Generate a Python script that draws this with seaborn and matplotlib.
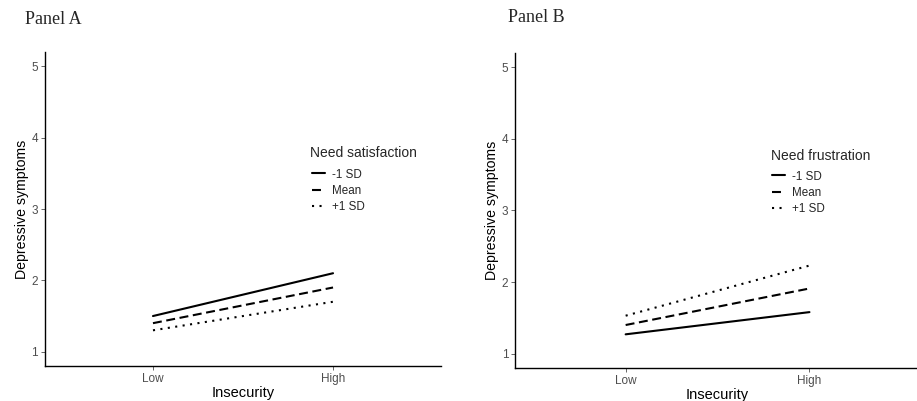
import pandas as pd
import matplotlib
matplotlib.use("Agg")
import matplotlib.pyplot as plt
import seaborn as sns

sns.set_theme(style="white")
plt.rcParams["font.family"] = ["Liberation Sans", "DejaVu Sans"]

insecurity = ["Low", "High"]
levels = ["-1 SD", "Mean", "+1 SD"]

# Panel A: need satisfaction moderates
sat_minus = [1.50, 2.10]
sat_mean = [1.40, 1.90]
sat_plus = [1.30, 1.70]

# Panel B: need frustration moderates
fru_minus = [1.27, 1.58]
fru_mean = [1.40, 1.91]
fru_plus = [1.53, 2.23]

dashes = {"-1 SD": "", "Mean": (4.3, 2.2), "+1 SD": (1, 2.6)}

W, H = 917, 401


def long_df(minus, mean, plus):
    rows = []
    for lvl, vals in zip(levels, [minus, mean, plus]):
        for x, y in zip(insecurity, vals):
            rows.append({"Insecurity": x, "y": y, "level": lvl})
    return pd.DataFrame(rows)


def draw(ax, df, legend_title, leg_px, title_px, panel, panel_px):
    fig = ax.figure
    sns.lineplot(data=df, x="Insecurity", y="y", style="level",
                 style_order=levels, dashes=dashes, color="black",
                 linewidth=1.5, ax=ax, legend=True)
    ax.set_xlim(-0.6, 1.6)
    ax.set_ylim(0.8, 5.2)
    ax.set_yticks([1, 2, 3, 4, 5])
    ax.set_xticks([0, 1])
    ax.set_xticklabels(insecurity)
    ax.tick_params(axis="both", which="both", length=3, width=0.6,
                   colors="#4d4d4d", labelsize=8.5, pad=2,
                   left=True, bottom=True)
    ax.set_xlabel("Insecurity", fontsize=10.5, color="black", labelpad=1)
    ax.set_ylabel("Depressive symptoms", fontsize=10.2, color="black", labelpad=2)
    for s in ["top", "right"]:
        ax.spines[s].set_visible(False)
    for s in ["left", "bottom"]:
        ax.spines[s].set_color("black")
        ax.spines[s].set_linewidth(1.0)

    # legend: entries only, title drawn separately for ggplot-like spacing
    handles, labels = ax.get_legend_handles_labels()
    ax.legend(handles, labels, frameon=False, loc="center left",
              bbox_to_anchor=(leg_px[0] / W, 1 - leg_px[1] / H),
              bbox_transform=fig.transFigure,
              fontsize=8.4, handlelength=1.1, handletextpad=0.65,
              labelspacing=0.38, borderpad=0, borderaxespad=0)
    fig.text(title_px[0] / W, 1 - title_px[1] / H, legend_title,
             fontsize=10, va="center", ha="left")
    fig.text(panel_px[0] / W, 1 - panel_px[1] / H, panel, fontsize=13,
             family="Liberation Serif", va="center", ha="left")


fig = plt.figure(figsize=(W / 100, H / 100), dpi=100)
ax_a = fig.add_axes([0.049, 0.0873, 0.432, 0.783])
ax_b = fig.add_axes([0.562, 0.0823, 0.441, 0.786])

draw(ax_a, long_df(sat_minus, sat_mean, sat_plus), "Need satisfaction",
     (312, 191), (310, 153), "Panel A", (25, 19))
draw(ax_b, long_df(fru_minus, fru_mean, fru_plus), "Need frustration",
     (772, 193), (771, 155.7), "Panel B", (508, 18))

fig.savefig("out.png", dpi=100)
